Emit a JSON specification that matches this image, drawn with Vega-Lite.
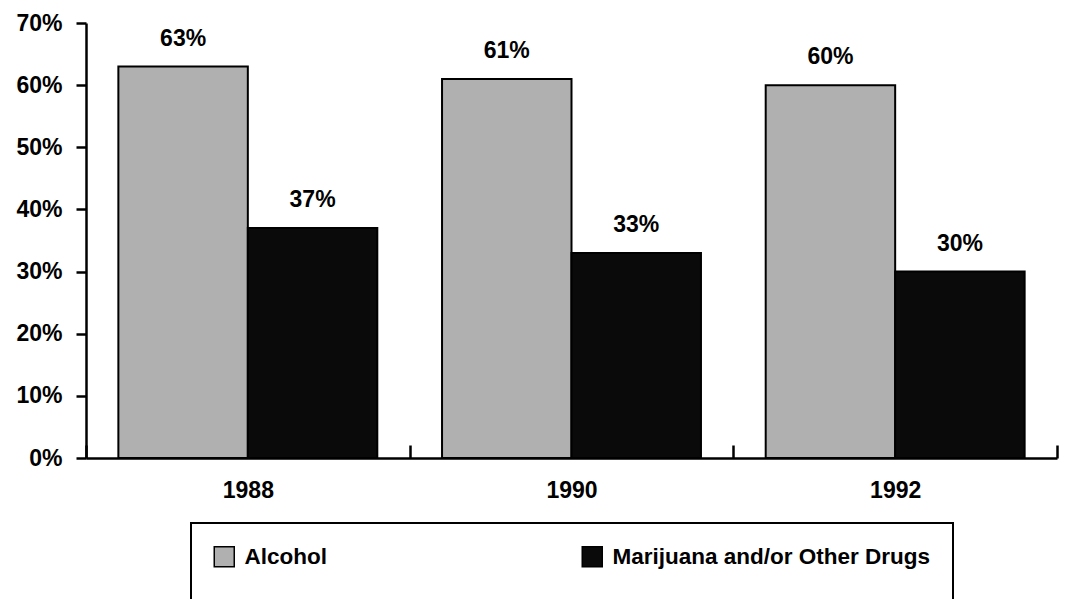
{
  "$schema": "https://vega.github.io/schema/vega-lite/v6.json",
  "width": 971,
  "height": 435,
  "autosize": "none",
  "padding": {"left": 86, "top": 23, "right": 11, "bottom": 141},
  "background": "white",
  "config": {
    "view": {"stroke": null},
    "font": "Liberation Sans",
    "legend": {"strokeWidth": 2}
  },
  "data": {
    "values": [
      {"year": "1988", "type": "Alcohol", "value": 0.63},
      {"year": "1988", "type": "Marijuana and/or Other Drugs", "value": 0.37},
      {"year": "1990", "type": "Alcohol", "value": 0.61},
      {"year": "1990", "type": "Marijuana and/or Other Drugs", "value": 0.33},
      {"year": "1992", "type": "Alcohol", "value": 0.60},
      {"year": "1992", "type": "Marijuana and/or Other Drugs", "value": 0.30}
    ]
  },
  "encoding": {
    "x": {
      "field": "year", "type": "nominal",
      "scale": {"paddingInner": 0, "paddingOuter": 0},
      "axis": {
        "title": null, "labelAngle": 0, "tickBand": "extent",
        "domainColor": "black", "domainWidth": 2.5, "tickColor": "black", "tickWidth": 2.5,
        "tickSize": -13, "labelPadding": 34,
        "labelFont": "Liberation Sans", "labelFontSize": 23, "labelFontWeight": "bold", "labelColor": "black"
      }
    },
    "xOffset": {
      "field": "type", "type": "nominal",
      "scale": {"paddingInner": 0, "paddingOuter": 0.25}
    },
    "y": {
      "field": "value", "type": "quantitative",
      "scale": {"domain": [0, 0.7]},
      "axis": {
        "title": null, "values": [0, 0.1, 0.2, 0.3, 0.4, 0.5, 0.6, 0.7], "grid": false,
        "format": ".0%",
        "domainColor": "black", "domainWidth": 2.5, "tickColor": "black", "tickWidth": 2.5,
        "tickSize": 10, "labelPadding": 14,
        "labelFont": "Liberation Sans", "labelFontSize": 23, "labelFontWeight": "bold", "labelColor": "black"
      }
    }
  },
  "layer": [
    {
      "mark": {"type": "bar", "stroke": "black", "strokeWidth": 2},
      "encoding": {
        "color": {
          "field": "type", "type": "nominal",
          "scale": {"domain": ["Alcohol", "Marijuana and/or Other Drugs"], "range": ["#b0b0b0", "#0a0a0a"]},
          "legend": {
            "title": " ", "titleOrient": "bottom", "titleFontSize": 14, "titlePadding": 10,
            "orient": "none", "legendX": 105, "legendY": 500,
            "direction": "horizontal", "columns": 2, "columnPadding": 252,
            "symbolType": "square", "symbolSize": 400, "symbolStrokeColor": "black", "symbolStrokeWidth": 1.5,
            "symbolOpacity": 1, "labelOffset": 9,
            "labelFont": "Liberation Sans", "labelFontSize": 22.5, "labelFontWeight": "bold", "labelColor": "black",
            "labelLimit": 500,
            "padding": 22, "strokeColor": "black"
          }
        }
      }
    },
    {
      "mark": {"type": "text", "baseline": "alphabetic", "dy": -21, "fontSize": 23, "fontWeight": "bold", "font": "Liberation Sans", "color": "black"},
      "encoding": {
        "text": {"field": "value", "type": "quantitative", "format": ".0%"},
        "detail": {"field": "type", "type": "nominal"}
      }
    }
  ]
}
